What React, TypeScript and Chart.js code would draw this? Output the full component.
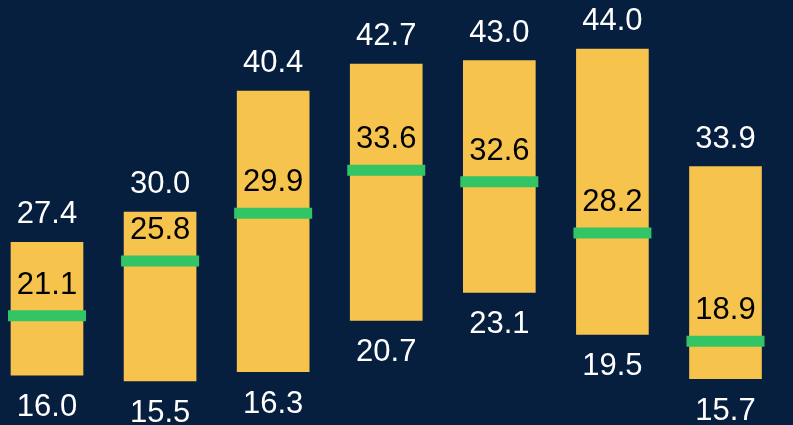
import React, { useEffect, useRef } from "react";
import { Chart, registerables } from "chart.js";

Chart.register(...registerables);

const categories = ["1", "2", "3", "4", "5", "6", "7"];
const lows = [16.0, 15.5, 16.3, 20.7, 23.1, 19.5, 15.7];
const highs = [27.4, 30.0, 40.4, 42.7, 43.0, 44.0, 33.9];
const medians = [21.1, 25.8, 29.9, 33.6, 32.6, 28.2, 18.9];

const BG = "#071f3f";
const BAR = "#f6c44c";
const GREEN = "#33c466";
const FONT = "31px 'Liberation Sans', Arial, sans-serif";

const labelPlugin = {
  id: "rangeLabels",
  afterDatasetsDraw(chart: any) {
    const ctx = chart.ctx;
    const xs = chart.scales.x;
    const ys = chart.scales.y;
    ctx.save();
    ctx.font = FONT;
    ctx.textAlign = "center";
    ctx.textBaseline = "alphabetic";
    categories.forEach((_, i) => {
      const x = xs.getPixelForValue(i);
      const yTop = ys.getPixelForValue(highs[i]);
      const yBot = ys.getPixelForValue(lows[i]);
      const yMed = ys.getPixelForValue(medians[i]);
      ctx.fillStyle = "#ffffff";
      ctx.fillText(highs[i].toFixed(1), x, yTop - 19);
      ctx.fillText(lows[i].toFixed(1), x, yBot + 41);
      ctx.fillStyle = "#000000";
      ctx.fillText(medians[i].toFixed(1), x, yMed - 22);
    });
    ctx.restore();
  },
};

export default function App() {
  const ref = useRef<HTMLCanvasElement | null>(null);
  useEffect(() => {
    if (!ref.current) return;
    const chart = new Chart(ref.current, {
      type: "bar",
      data: {
        datasets: [
          {
            type: "line",
            label: "Median",
            data: categories.map((_, i) => ({ x: i, y: medians[i] })),
            showLine: false,
            pointStyle: "line",
            pointRadius: 39,
            pointHoverRadius: 39,
            borderColor: GREEN,
            backgroundColor: GREEN,
            pointBorderWidth: 11,
            pointHoverBorderWidth: 11,
            order: 0,
          } as any,
          {
            type: "bar",
            label: "Range",
            data: categories.map((_, i) => ({ x: i, y: [lows[i], highs[i]] })) as any,
            backgroundColor: BAR,
            borderWidth: 0,
            barThickness: 72,
            order: 1,
          } as any,
        ],
      },
      options: {
        animation: false,
        responsive: false,
        maintainAspectRatio: false,
        layout: { padding: 0, autoPadding: false },
        plugins: {
          legend: { display: false },
          tooltip: { enabled: false },
          title: { display: false },
        },
        scales: {
          x: { type: "linear", min: -0.4156, max: 6.597, display: false, offset: false },
          y: { type: "linear", min: 11.72, max: 48.21, display: false },
        },
      },
      plugins: [labelPlugin],
    });
    return () => chart.destroy();
  }, []);

  return (
    <div
      style={{
        position: "fixed",
        left: 0,
        top: 0,
        width: 793,
        height: 425,
        background: BG,
      }}
    >
      <canvas ref={ref} width={793} height={425} style={{ display: "block", width: 793, height: 425 }} />
    </div>
  );
}
